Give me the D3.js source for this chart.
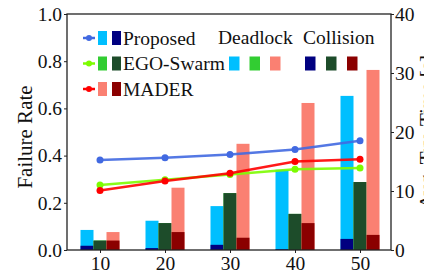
<!DOCTYPE html>
<html>
<head>
<meta charset="utf-8">
<script src="https://cdn.jsdelivr.net/npm/d3@7"></script>
<style>
  body { margin: 0; background: #fff; }
  svg { display: block; font-family: "Liberation Serif", "DejaVu Serif", serif; }
</style>
</head>
<body>
<svg id="chart" width="424" height="274"></svg>
<script>
// dados
const agents = [10, 20, 30, 40, 50];
const methods = ["Proposed", "EGO-Swarm", "MADER"];

// taxa de colisão (parte escura, em baixo)
const collisionProposed = [0.018, 0.008, 0.022, 0.003, 0.047];
const collisionEgo = [0.040, 0.114, 0.241, 0.153, 0.288];
const collisionMader = [0.040, 0.076, 0.052, 0.114, 0.064];

// taxa de deadlock (parte clara, empilhada por cima)
const deadlockProposed = [0.067, 0.116, 0.164, 0.337, 0.606];
const deadlockEgo = [0, 0, 0, 0, 0];
const deadlockMader = [0.036, 0.188, 0.398, 0.509, 0.699];

// tempo médio de viagem (eixo direito)
const timeProposed = [15.25, 15.65, 16.2, 17.05, 18.5];
const timeEgo = [11.0, 11.9, 12.8, 13.7, 13.9];
const timeMader = [10.1, 11.7, 13.0, 15.0, 15.4];

const leftTicks = [0, 0.2, 0.4, 0.6, 0.8, 1.0];
const rightTicks = [0, 10, 20, 30, 40];

// cores
const lineColors = ["#4169e1", "#7cfc00", "#ff0000"];
const lightColors = ["#00bfff", "#32cd32", "#fa8072"];
const darkColors = ["#000080", "#1d4c2a", "#8b0000"];

const collision = [collisionProposed, collisionEgo, collisionMader];
const deadlock = [deadlockProposed, deadlockEgo, deadlockMader];
const times = [timeProposed, timeEgo, timeMader];

const svg = d3.select("#chart");
const plot = { left: 67, right: 391, top: 14, bottom: 250 };
const fs = 19.5;

const x = d3.scaleLinear().domain([10, 50]).range([100, 360]);
const yL = d3.scaleLinear().domain([0, 1]).range([plot.bottom, plot.top]);
const yR = d3.scaleLinear().domain([0, 40]).range([plot.bottom, plot.top]);
const barW = 13;

// barras
methods.forEach((m, i) => {
  const off = (i - 1) * barW - barW / 2;
  const g = svg.append("g");
  g.selectAll("rect.light")
    .data(agents)
    .enter().append("rect")
    .attr("x", (d) => x(d) + off)
    .attr("width", barW)
    .attr("y", (d, k) => yL(collision[i][k] + deadlock[i][k]))
    .attr("height", (d, k) => yL(0) - yL(collision[i][k] + deadlock[i][k]))
    .attr("fill", lightColors[i]);
  g.selectAll("rect.dark")
    .data(agents)
    .enter().append("rect")
    .attr("x", (d) => x(d) + off)
    .attr("width", barW)
    .attr("y", (d, k) => yL(collision[i][k]))
    .attr("height", (d, k) => yL(0) - yL(collision[i][k]))
    .attr("fill", darkColors[i]);
});

// linhas
methods.forEach((m, i) => {
  const line = d3.line().x((d) => x(d)).y((d, k) => yR(times[i][k]));
  svg.append("path")
    .datum(agents)
    .attr("d", line)
    .attr("fill", "none")
    .attr("stroke", lineColors[i])
    .attr("stroke-width", 2.5)
    .attr("opacity", 0.9);
  svg.selectAll(null)
    .data(agents)
    .enter().append("circle")
    .attr("cx", (d) => x(d))
    .attr("cy", (d, k) => yR(times[i][k]))
    .attr("r", 3.5)
    .attr("fill", lineColors[i]);
});

// moldura
svg.append("rect")
  .attr("x", plot.left).attr("y", plot.top)
  .attr("width", plot.right - plot.left).attr("height", plot.bottom - plot.top)
  .attr("fill", "none").attr("stroke", "#222").attr("stroke-width", 1.3);

// eixos
const axL = svg.append("g").attr("transform", `translate(${plot.left},0)`)
  .call(d3.axisLeft(yL).tickValues(leftTicks).tickFormat(d3.format(".1f")).tickSize(3).tickPadding(2));
const axR = svg.append("g").attr("transform", `translate(${plot.right},0)`)
  .call(d3.axisRight(yR).tickValues(rightTicks).tickSize(3).tickPadding(1));
const axB = svg.append("g").attr("transform", `translate(0,${plot.bottom})`)
  .call(d3.axisBottom(x).tickValues(agents).tickSize(3).tickPadding(3));

[axL, axR, axB].forEach((a) => {
  a.select(".domain").remove();
  a.selectAll("line").attr("stroke", "#222");
  a.selectAll("text").attr("font-size", fs).attr("fill", "#111")
    .attr("font-family", "Liberation Serif");
});

// rótulos
svg.append("text")
  .attr("transform", `translate(32,137) rotate(-90)`)
  .attr("text-anchor", "middle")
  .attr("font-size", 21)
  .attr("fill", "#111")
  .text("Failure Rate");

// no original este rótulo fica quase todo cortado pela borda direita
svg.append("text")
  .attr("transform", `translate(434,132) rotate(-90)`)
  .attr("text-anchor", "middle")
  .attr("font-size", 21)
  .attr("fill", "#111")
  .text("Avg. Trv. Time [s]");

// legenda
const rowY = [38, 63.5, 89];
methods.forEach((m, i) => {
  const ly = rowY[i];
  svg.append("line").attr("x1", 83).attr("x2", 95).attr("y1", ly).attr("y2", ly)
    .attr("stroke", lineColors[i]).attr("stroke-width", 2.5);
  svg.append("circle").attr("cx", 89).attr("cy", ly).attr("r", 3).attr("fill", lineColors[i]);
  svg.append("rect").attr("x", 98).attr("y", ly - 7).attr("width", 9).attr("height", 14)
    .attr("fill", lightColors[i]);
  svg.append("rect").attr("x", 112).attr("y", ly - 7).attr("width", 9).attr("height", 14)
    .attr("fill", darkColors[i]);
  svg.append("text").attr("x", 123).attr("y", ly + 6.5).attr("font-size", fs)
    .attr("fill", "#111").text(m);
});

svg.append("text").attr("x", 218).attr("y", 44).attr("font-size", fs).attr("fill", "#111").text("Deadlock");
svg.append("text").attr("x", 303).attr("y", 44).attr("font-size", fs).attr("fill", "#111").text("Collision");
lightColors.forEach((c, i) => {
  svg.append("rect").attr("x", 229 + i * 20.5).attr("y", 56.5).attr("width", 10.5).attr("height", 14).attr("fill", c);
});
darkColors.forEach((c, i) => {
  svg.append("rect").attr("x", 305 + i * 21).attr("y", 56.5).attr("width", 10.5).attr("height", 14).attr("fill", c);
});
</script>
</body>
</html>
